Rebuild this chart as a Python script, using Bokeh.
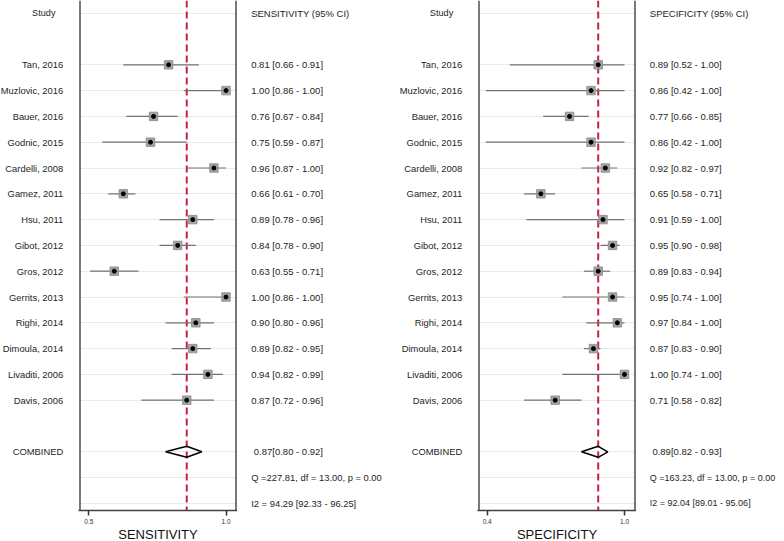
from bokeh.plotting import figure
from bokeh.layouts import row
from bokeh.models import Range1d, FixedTicker, Span, Grid
from bokeh.core.properties import value
from bokeh.embed import file_html
from bokeh.resources import INLINE

# ---------------- data ----------------
studies = ["Tan, 2016", "Muzlovic, 2016", "Bauer, 2016", "Godnic, 2015", "Cardelli, 2008",
           "Gamez, 2011", "Hsu, 2011", "Gibot, 2012", "Gros, 2012", "Gerrits, 2013",
           "Righi, 2014", "Dimoula, 2014", "Livaditi, 2006", "Davis, 2006"]
sens_est = [0.81, 1.00, 0.76, 0.75, 0.96, 0.66, 0.89, 0.84, 0.63, 1.00, 0.90, 0.89, 0.94, 0.87]
sens_lo = [0.66, 0.86, 0.67, 0.59, 0.87, 0.61, 0.78, 0.78, 0.55, 0.86, 0.80, 0.82, 0.82, 0.72]
sens_hi = [0.91, 1.00, 0.84, 0.87, 1.00, 0.70, 0.96, 0.90, 0.71, 1.00, 0.96, 0.95, 0.99, 0.96]
spec_est = [0.89, 0.86, 0.77, 0.86, 0.92, 0.65, 0.91, 0.95, 0.89, 0.95, 0.97, 0.87, 1.00, 0.71]
spec_lo = [0.52, 0.42, 0.66, 0.42, 0.82, 0.58, 0.59, 0.90, 0.83, 0.74, 0.84, 0.83, 0.74, 0.58]
spec_hi = [1.00, 1.00, 0.85, 1.00, 0.97, 0.71, 1.00, 0.98, 0.94, 1.00, 1.00, 0.90, 1.00, 0.82]
sens_combined = [0.87, 0.80, 0.92]
spec_combined = [0.89, 0.82, 0.93]
sens_q = "Q =227.81, df = 13.00, p =  0.00"
spec_q = "Q =163.23, df = 13.00, p =  0.00"
sens_i2 = "I2 = 94.29 [92.33 - 96.25]"
spec_i2 = "I2 = 92.04 [89.01 - 95.06]"
sens_ticks = [0.5457, 1.0]
sens_tick_labels = ["0.5", "1.0"]
spec_ticks = [0.4255, 1.0]
spec_tick_labels = ["0.4", "1.0"]

# ---------------- layout constants ----------------
FH = 510
ROW_PX = 25.8
Y_TOP = -12.7 / ROW_PX
Y_BOTTOM = Y_TOP + FH / ROW_PX
study_rows = list(range(2, 2 + len(studies)))
comb_row = study_rows[-1] + 2
q_row = comb_row + 1
i2_row = comb_row + 2
grid_rows = [0] + study_rows + [comb_row, q_row, i2_row]

FONT_NAME = "Liberation Sans"
FONT = value(FONT_NAME)
TXT = "#1e1e1e"
RED = "#c6223f"
BOXC = "#404040"


def base(fw):
    p = figure(frame_width=fw, frame_height=FH, y_range=Range1d(Y_BOTTOM, Y_TOP),
               output_backend="svg", toolbar_location=None, min_border=0,
               outline_line_color=None, y_axis_location=None,
               background_fill_color="white", border_fill_color="white")
    return p


def text_fig(fw):
    p = base(fw)
    p.x_range = Range1d(0, fw)
    p.xaxis.visible = False
    p.grid.visible = False
    return p


def label_fig(fw, xr, header_x, fsize):
    p = text_fig(fw)
    p.text(x=[header_x], y=[0], text=["Study"], text_align="center", text_baseline="middle",
           text_font=FONT, text_font_size="9.2px", text_color=TXT)
    p.text(x=[xr] * (len(studies) + 1), y=study_rows + [comb_row], text=studies + ["COMBINED"],
           text_align="right", text_baseline="middle", text_font=FONT,
           text_font_size=fsize, text_color=TXT)
    return p


def value_fig(fw, xl, header, est, lo, hi, comb, q, i2, qsize):
    p = text_fig(fw)
    vals = [f"{e:.2f} [{a:.2f} - {b:.2f}]" for e, a, b in zip(est, lo, hi)]
    p.text(x=[xl] * (len(vals) + 1), y=[0] + study_rows, text=[header] + vals,
           text_align="left", text_baseline="middle", text_font=FONT,
           text_font_size="9.5px", text_color=TXT)
    p.text(x=[xl + 2.6], y=[comb_row], text=[f"{comb[0]:.2f}[{comb[1]:.2f} - {comb[2]:.2f}]"],
           text_align="left", text_baseline="middle", text_font=FONT,
           text_font_size="9.5px", text_color=TXT)
    p.text(x=[xl, xl], y=[q_row, i2_row], text=[q, i2],
           text_align="left", text_baseline="middle", text_font=FONT,
           text_font_size=qsize, text_color=TXT)
    return p


def box_fig(x0, x1, box_lo, box_hi, ticks, tick_labels, title, est, lo, hi, comb):
    p = base(159)
    p.x_range = Range1d(x0, x1)
    p.grid.visible = False
    p.add_layout(Grid(dimension=1, ticker=FixedTicker(ticks=grid_rows),
                      grid_line_color="#e6edef", grid_line_width=1))
    p.add_layout(Span(location=comb[0], dimension="height", line_color=RED,
                      line_dash="7 4", line_width=2, level="underlay"))
    ax = p.xaxis[0]
    ax.ticker = FixedTicker(ticks=ticks)
    ax.major_label_overrides = {t: l for t, l in zip(ticks, tick_labels)}
    ax.axis_line_color = BOXC
    ax.axis_line_width = 1.4
    ax.major_tick_line_color = "#333333"
    ax.major_tick_line_width = 1.5
    ax.major_tick_out = 5
    ax.major_tick_in = 0
    ax.minor_tick_line_color = None
    ax.major_label_text_font = FONT_NAME
    ax.major_label_text_font_size = "6.5px"
    ax.major_label_text_color = "#333333"
    ax.major_label_standoff = 3
    ax.axis_label = title
    ax.axis_label_text_font = FONT_NAME
    ax.axis_label_text_font_size = "13px"
    ax.axis_label_text_font_style = "normal"
    ax.axis_label_text_color = "#111111"
    ax.axis_label_standoff = 0

    p.add_layout(Span(location=box_lo, dimension="height", line_color=BOXC, line_width=1.4))
    p.add_layout(Span(location=box_hi, dimension="height", line_color=BOXC, line_width=1.4))

    p.segment(x0=lo, x1=hi, y0=study_rows, y1=study_rows, line_color="#727272", line_width=1.2)
    p.scatter(x=est, y=study_rows, marker="square", size=8.5, fill_color="#a3a3a3",
              line_color="#8a8a8a", line_width=0.8)
    p.scatter(x=est, y=study_rows, marker="circle", size=4, fill_color="black", line_color="black")
    h = 5.5 / ROW_PX
    p.patch(x=[comb[1], comb[0], comb[2], comb[0]],
            y=[comb_row, comb_row - h, comb_row, comb_row + h],
            fill_color=None, line_color="black", line_width=1.5)
    return p


# sensitivity: 1.0 at page x 225.5, 302 px/unit ; frame page x 78..237
sp = 302.0
s_x0 = 1 + (78 - 225.5) / sp
s_x1 = 1 + (237 - 225.5) / sp
# specificity: 1.0 at page x 624, 239 px/unit ; frame page x 477..636
cp = 239.0
c_x0 = 1 + (477 - 624) / cp
c_x1 = 1 + (636 - 624) / cp

p1 = label_fig(78, 62.7, 43.3, "9.4px")
p2 = box_fig(s_x0, s_x1, s_x0 + 1.5 / sp, s_x1 - 1.5 / sp, sens_ticks, sens_tick_labels,
             "SENSITIVITY", sens_est, sens_lo, sens_hi, sens_combined)
p3 = value_fig(153, 13.7, "SENSITIVITY (95% CI)", sens_est, sens_lo, sens_hi, sens_combined,
               sens_q, sens_i2, "9.4px")
p4 = label_fig(87, 71.7, 51, "9.4px")
p5 = box_fig(c_x0, c_x1, c_x0 + 1.5 / cp, c_x1 - 1.5 / cp, spec_ticks, spec_tick_labels,
             "SPECIFICITY", spec_est, spec_lo, spec_hi, spec_combined)
p6 = value_fig(148, 13.3, "SPECIFICITY (95% CI)", spec_est, spec_lo, spec_hi, spec_combined,
               spec_q, spec_i2, "9px")

layout = row(p1, p2, p3, p4, p5, p6)
open("out.html", "w").write(file_html(layout, INLINE))
